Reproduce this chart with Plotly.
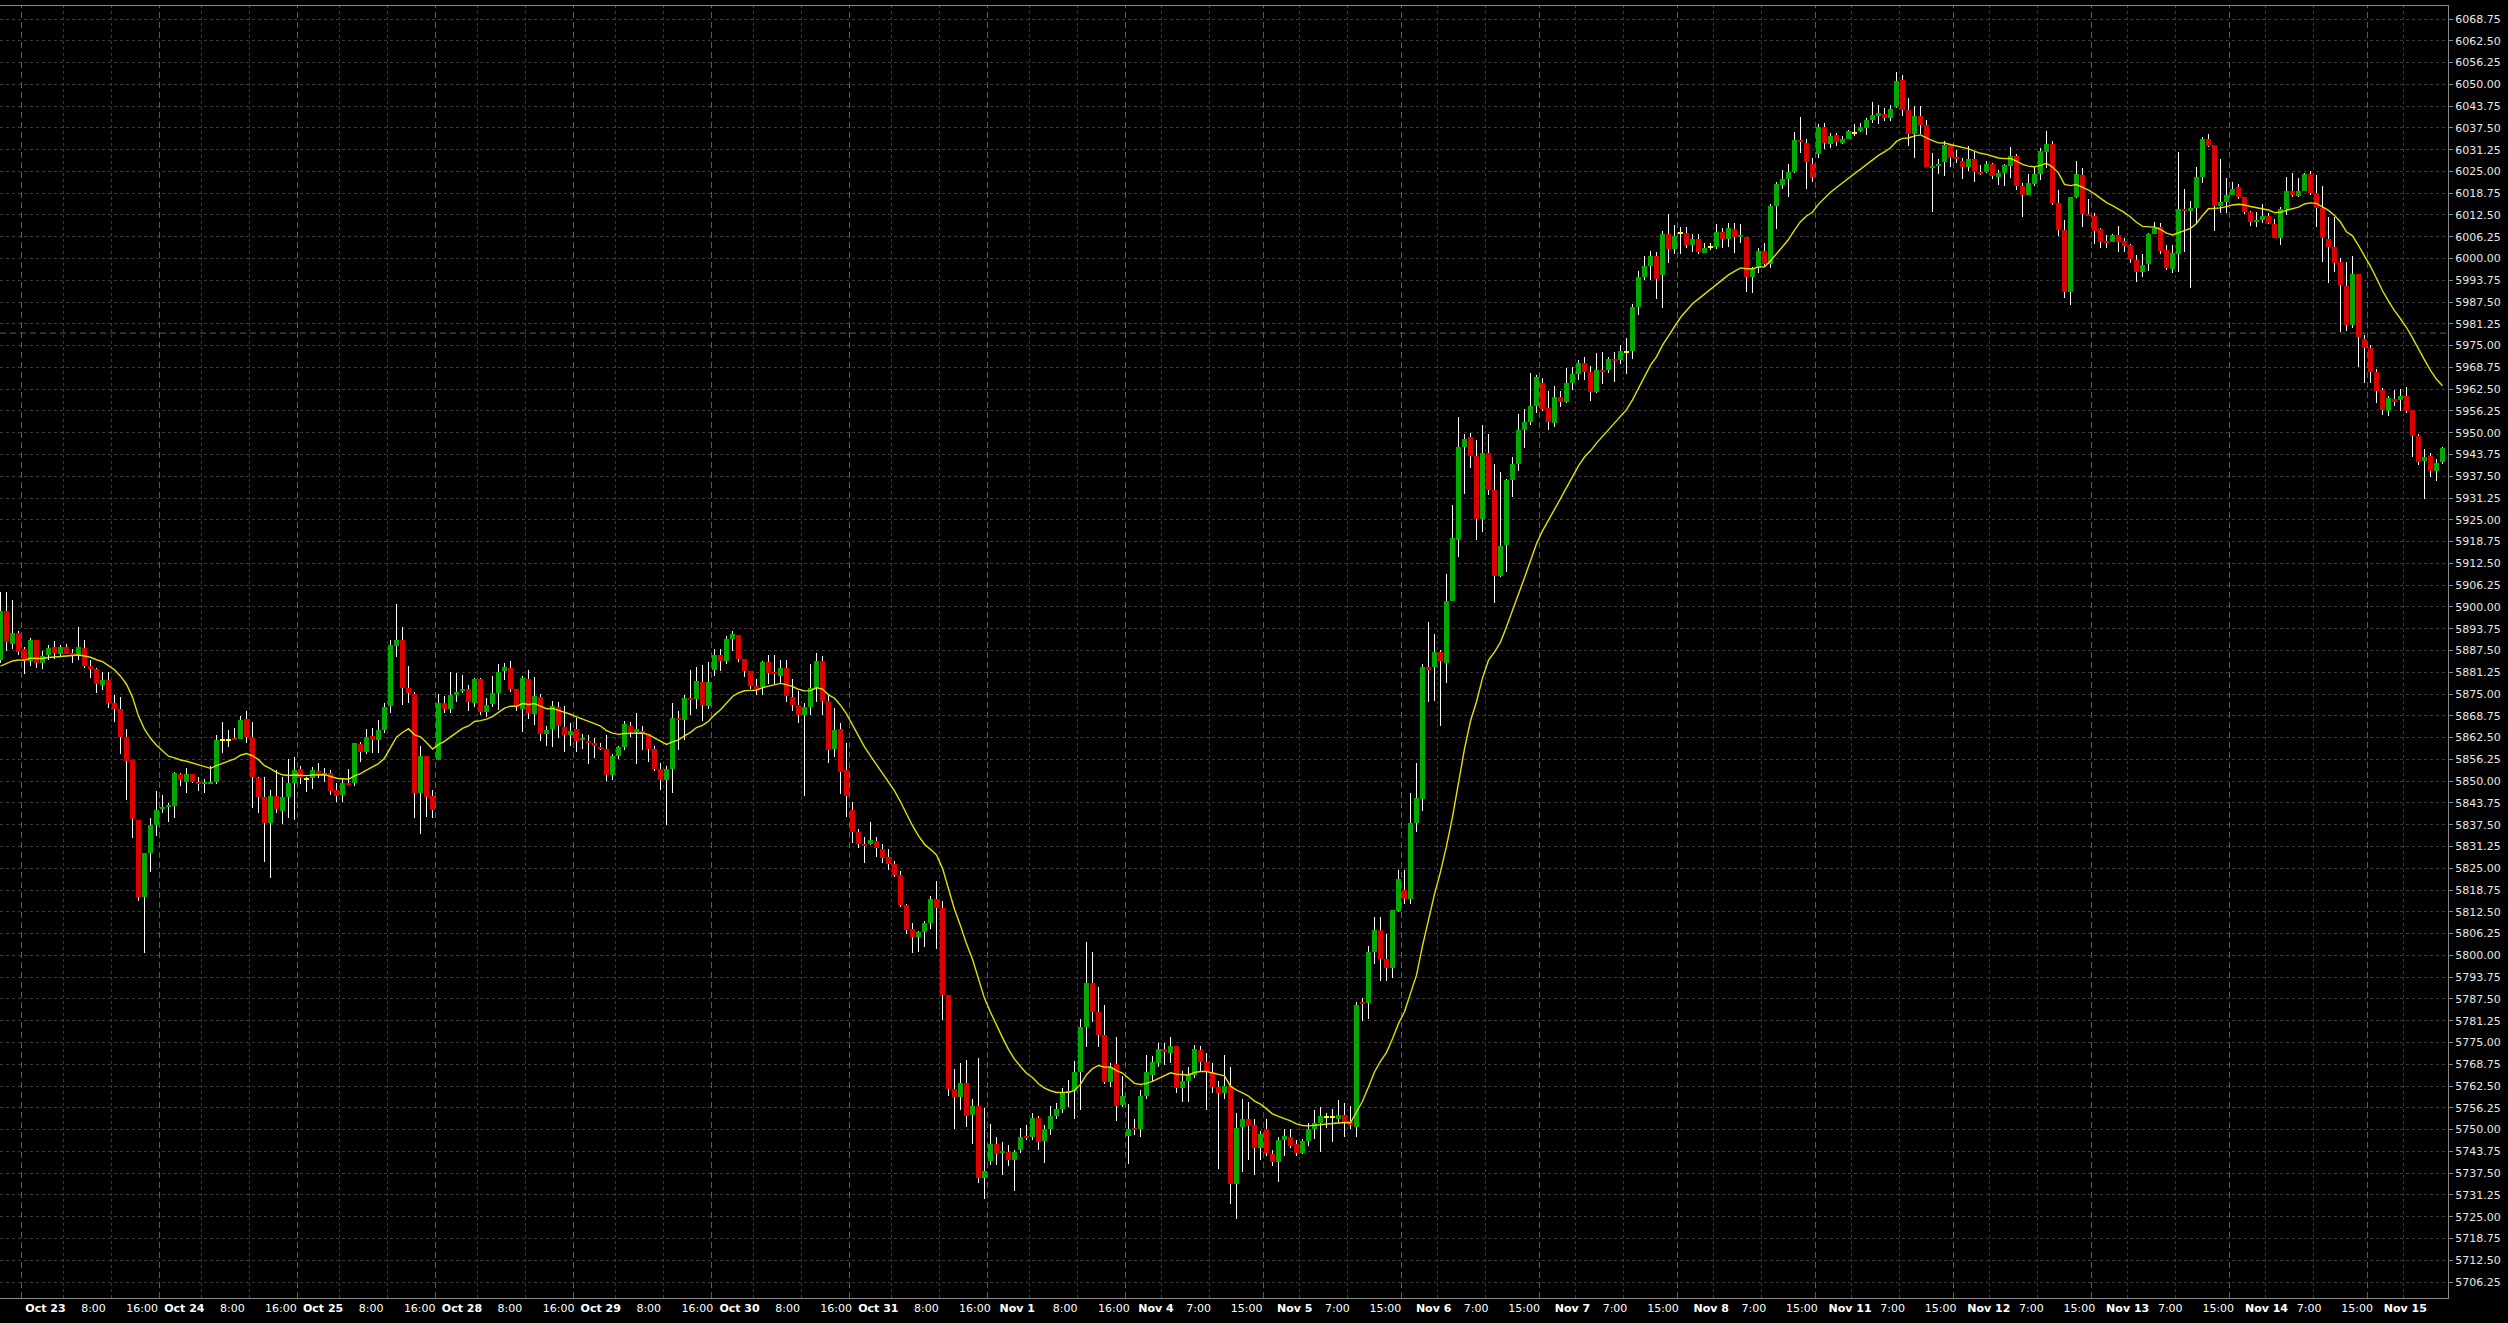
import plotly.graph_objects as go

# ---------------- data (hourly OHLC) ----------------
opens = [
5884.8,5898.8,5889.4,5892.6,5887.8,5884.6,5890.5,5884.0,5886.2,5888.4,
5886.6,5888.5,5886.8,5886.2,5888.2,5883.0,5882.2,5877.6,5879.1,5872.4,
5870.7,5862.6,5856.1,5838.9,5816.8,5829.3,5837.4,5842.1,5842.5,5842.8,
5852.1,5849.9,5852.1,5849.9,5849.1,5849.1,5849.9,5861.8,5861.8,5862.3,
5862.2,5867.8,5862.6,5851.0,5845.5,5837.9,5845.7,5841.4,5845.5,5849.4,
5853.4,5850.7,5851.0,5852.9,5851.8,5852.2,5847.5,5845.9,5849.6,5849.6,
5860.6,5858.5,5863.0,5861.8,5864.7,5871.6,5888.9,5890.5,5876.8,5875.0,
5846.7,5857.2,5845.7,5856.1,5872.3,5870.6,5874.7,5876.0,5876.5,5872.3,
5879.2,5869.9,5872.2,5875.2,5881.5,5882.5,5876.5,5870.8,5879.3,5869.4,
5874.2,5863.6,5865.1,5871.4,5865.5,5863.2,5865.0,5861.7,5861.5,5860.9,
5859.8,5859.1,5851.8,5857.2,5859.8,5865.7,5864.2,5864.3,5863.4,5859.1,
5853.4,5850.4,5853.4,5868.2,5867.6,5873.9,5873.6,5878.5,5871.6,5881.8,
5886.3,5884.4,5890.7,5892.0,5885.0,5881.6,5877.3,5877.0,5884.1,5881.3,
5880.2,5882.5,5874.2,5871.9,5869.1,5871.4,5876.8,5884.4,5873.1,5859.1,
5865.1,5853.2,5841.8,5835.4,5832.0,5832.0,5832.8,5830.5,5828.2,5826.2,
5823.1,5814.6,5807.6,5805.3,5806.7,5809.2,5816.3,5813.5,5788.5,5761.6,
5759.3,5763.5,5754.1,5756.7,5736.1,5741.0,5745.9,5743.4,5743.7,5741.2,
5744.1,5748.3,5747.9,5753.3,5746.6,5750.1,5753.8,5755.9,5760.6,5761.2,
5766.5,5779.4,5792.2,5783.8,5777.1,5763.6,5768.7,5757.0,5748.3,5750.5,
5750.1,5759.7,5765.6,5769.0,5773.2,5772.0,5774.1,5761.9,5763.9,5765.6,
5772.7,5769.3,5766.5,5762.2,5760.6,5762.6,5734.5,5750.8,5753.0,5751.3,
5744.6,5750.1,5742.9,5740.7,5747.1,5747.9,5745.9,5743.2,5746.8,5750.1,
5751.8,5753.5,5753.5,5753.0,5754.2,5752.5,5750.8,5786.7,5786.2,5801.0,
5807.4,5799.0,5796.3,5812.8,5818.7,5816.1,5838.0,5844.8,5882.7,5882.7,
5887.2,5883.8,5901.7,5919.2,5945.8,5948.8,5943.3,5925.3,5944.1,5933.7,
5908.9,5917.9,5936.3,5940.9,5950.7,5953.0,5957.6,5964.3,5957.1,5952.9,
5960.4,5958.7,5964.3,5966.8,5970.0,5967.4,5961.8,5967.9,5967.9,5971.2,
5970.9,5973.2,5973.4,5986.0,5994.6,5997.8,6000.7,5995.3,6007.1,6002.8,
6007.3,6007.4,6004.0,6005.5,6001.7,6003.2,6003.2,6007.6,6005.5,6008.6,
6006.1,6006.3,5994.6,5997.3,6002.1,5998.4,6015.1,6021.2,6022.7,6024.8,
6033.9,6033.2,6027.0,6029.9,6037.8,6033.0,6035.5,6033.2,6034.2,6036.1,
6036.5,6037.6,6039.7,6040.9,6041.4,6040.2,6043.5,6051.1,6042.6,6035.8,
6040.9,6038.3,6026.2,6026.7,6027.6,6032.7,6029.1,6027.9,6026.3,6028.6,
6024.7,6024.7,6027.0,6023.5,6024.6,6026.6,6029.4,6020.8,6018.2,6021.4,
6024.3,6030.7,6032.9,6015.8,6008.2,5990.5,6017.8,6024.0,6012.8,6012.2,
6008.5,6005.0,6004.8,6006.8,6005.0,6003.9,5999.6,5996.2,5998.4,6007.0,
6009.0,6002.4,5997.0,6001.3,6014.1,6013.6,6014.6,6023.3,6034.2,6032.6,
6015.1,6016.3,6018.2,6020.4,6017.6,6013.3,6010.6,6011.1,6012.2,6009.9,
6006.0,6014.2,6019.4,6018.0,6019.4,6024.3,6018.9,6014.6,6005.6,6003.4,
5999.1,5992.2,5980.9,5995.6,5976.9,5974.2,5967.5,5962.3,5956.3,5959.7,
5959.4,5960.5,5956.5,5949.1,5941.9,5943.3,5939.1,5941.7]

highs = [
5904.3,5904.2,5902.0,5893.2,5888.6,5891.0,5890.5,5887.5,5889.0,5890.2,
5889.1,5889.4,5887.8,5894.3,5890.5,5884.8,5882.5,5881.4,5881.4,5874.7,
5874.2,5865.0,5856.1,5838.9,5829.3,5839.5,5847.2,5846.0,5843.8,5852.7,
5852.4,5853.7,5852.1,5851.3,5850.5,5854.3,5863.2,5866.9,5864.7,5865.4,
5868.7,5870.1,5866.9,5851.3,5851.3,5847.5,5853.2,5851.3,5856.3,5857.0,
5854.3,5851.3,5854.2,5855.3,5853.7,5853.2,5849.4,5850.5,5853.4,5860.9,
5861.3,5864.9,5865.4,5867.6,5872.3,5890.5,5900.9,5894.2,5883.1,5875.7,
5860.2,5857.2,5847.5,5875.0,5874.4,5881.4,5881.1,5880.5,5877.6,5879.5,
5879.5,5873.8,5880.3,5883.5,5884.0,5884.4,5876.5,5880.2,5881.8,5879.9,
5875.1,5865.7,5873.1,5872.7,5871.6,5866.6,5868.0,5863.4,5863.2,5862.3,
5861.0,5863.2,5857.7,5860.2,5867.2,5867.0,5869.7,5865.7,5863.4,5860.0,
5855.2,5854.3,5872.5,5870.2,5874.8,5881.8,5882.9,5883.3,5884.1,5887.8,
5887.8,5891.6,5893.1,5892.0,5885.0,5881.6,5879.3,5884.4,5886.1,5886.1,
5884.7,5884.7,5879.3,5875.9,5872.3,5883.6,5886.9,5885.8,5875.0,5871.1,
5866.8,5860.9,5843.9,5836.4,5834.1,5838.2,5833.9,5831.9,5830.5,5827.1,
5824.3,5814.8,5809.2,5806.9,5809.8,5816.9,5821.4,5815.5,5788.5,5767.5,
5769.0,5770.0,5758.7,5770.6,5756.2,5751.6,5747.9,5746.3,5745.7,5744.1,
5750.5,5751.3,5754.7,5753.8,5751.3,5756.9,5757.5,5761.9,5764.3,5769.8,
5781.6,5803.9,5801.0,5790.9,5785.8,5769.0,5776.6,5765.3,5757.2,5753.0,
5761.4,5771.5,5771.0,5774.9,5774.9,5776.6,5774.1,5766.9,5768.1,5774.4,
5774.1,5772.0,5769.0,5763.9,5771.5,5768.1,5754.7,5758.9,5758.0,5753.0,
5749.6,5753.0,5744.1,5747.9,5750.1,5750.1,5747.1,5747.4,5751.8,5755.5,
5756.4,5754.7,5755.9,5758.5,5757.5,5756.9,5786.7,5787.8,5802.7,5811.1,
5811.1,5806.0,5813.1,5824.6,5824.6,5846.5,5855.2,5883.5,5895.6,5892.2,
5887.7,5909.6,5929.3,5954.6,5949.5,5950.0,5947.8,5952.2,5949.5,5941.1,
5938.7,5936.8,5943.0,5955.3,5956.8,5967.1,5966.6,5965.6,5962.0,5963.5,
5962.0,5968.6,5968.8,5970.9,5971.7,5969.1,5972.9,5973.2,5971.7,5973.2,
5975.3,5977.3,5986.9,5996.3,6000.6,6002.2,6001.9,6007.8,6012.9,6009.6,
6009.1,6009.1,6007.1,6006.9,6004.5,6004.5,6009.9,6008.9,6010.1,6010.1,
6009.8,6006.3,5997.6,6003.0,6004.5,6015.6,6021.9,6025.5,6027.0,6036.3,
6040.6,6034.2,6028.9,6038.5,6038.8,6036.1,6036.1,6035.3,6036.8,6038.5,
6038.8,6040.4,6044.8,6044.0,6043.2,6044.0,6053.5,6052.7,6046.0,6043.7,
6043.7,6039.9,6030.3,6028.6,6033.7,6033.0,6031.1,6028.9,6032.4,6030.6,
6026.9,6027.9,6027.3,6025.5,6027.1,6032.1,6030.0,6021.6,6024.3,6026.4,
6031.6,6036.6,6033.8,6019.7,6011.1,6017.6,6028.0,6025.9,6017.0,6013.0,
6008.7,6006.8,6007.0,6009.2,6005.8,6004.2,6001.0,6001.3,6007.4,6010.6,
6010.3,6003.9,6003.9,6030.7,6020.1,6016.6,6026.4,6035.0,6035.7,6032.6,
6028.5,6023.0,6022.1,6021.4,6017.6,6013.7,6013.5,6015.7,6013.0,6011.3,
6014.7,6023.3,6024.6,6023.0,6024.6,6025.2,6024.0,6020.8,6012.0,6012.0,
6000.1,5999.1,6000.7,5995.6,5978.1,5975.2,5968.2,5962.7,5960.5,5962.3,
5962.5,5963.0,5956.5,5949.6,5945.2,5944.1,5942.4,5946.0]

lows = [
5884.0,5887.5,5887.8,5886.2,5880.7,5883.0,5882.4,5882.1,5884.8,5885.0,
5885.7,5886.5,5884.0,5884.8,5882.4,5879.7,5875.4,5876.2,5870.9,5867.1,
5857.8,5844.6,5833.6,5815.7,5800.8,5824.0,5834.3,5840.8,5838.4,5839.5,
5848.7,5846.5,5849.4,5847.2,5846.5,5849.1,5849.1,5858.0,5859.9,5861.8,
5862.0,5860.9,5842.4,5840.8,5826.9,5822.3,5840.8,5837.6,5839.3,5838.8,
5849.2,5847.0,5847.7,5851.0,5849.9,5846.0,5844.1,5844.1,5848.9,5848.7,
5855.6,5857.8,5858.0,5858.0,5863.9,5869.5,5885.7,5871.9,5872.3,5839.5,
5834.8,5839.6,5839.5,5856.1,5869.5,5869.7,5872.8,5875.2,5870.2,5871.2,
5869.0,5868.3,5871.2,5870.4,5879.0,5875.7,5870.2,5864.2,5867.7,5866.2,
5861.4,5860.0,5859.8,5862.5,5858.5,5860.0,5858.5,5859.1,5855.0,5856.6,
5858.9,5850.0,5850.4,5856.4,5858.9,5862.8,5854.8,5858.9,5855.5,5853.0,
5847.5,5837.5,5846.6,5858.9,5861.7,5868.9,5870.8,5867.2,5870.8,5880.2,
5881.6,5883.5,5887.5,5884.1,5879.9,5876.5,5874.8,5874.8,5877.9,5877.9,
5877.9,5872.7,5870.0,5866.6,5845.6,5869.1,5872.7,5869.1,5855.1,5856.8,
5846.2,5839.8,5832.2,5830.8,5826.5,5831.6,5828.2,5826.5,5824.6,5822.6,
5814.0,5806.1,5800.8,5801.0,5802.4,5807.6,5801.9,5781.4,5759.6,5750.3,
5755.6,5750.7,5745.9,5734.6,5730.1,5739.7,5739.7,5737.0,5739.5,5732.3,
5743.2,5747.1,5747.1,5744.1,5740.4,5748.4,5753.0,5754.7,5756.4,5753.0,
5755.5,5773.7,5780.8,5773.7,5763.1,5762.3,5752.5,5756.4,5740.0,5748.4,
5747.9,5758.9,5763.6,5768.1,5768.6,5769.0,5760.6,5758.0,5758.0,5764.8,
5766.5,5755.5,5760.6,5738.7,5758.9,5728.6,5724.4,5737.8,5741.2,5737.0,
5741.2,5742.4,5739.5,5735.0,5742.4,5744.6,5742.4,5742.9,5745.4,5747.4,
5743.7,5750.5,5746.3,5751.8,5748.0,5750.1,5747.9,5781.1,5781.6,5797.6,
5792.6,5792.6,5793.4,5812.4,5814.8,5814.8,5835.5,5841.4,5872.6,5873.1,
5865.8,5878.1,5901.7,5914.2,5932.3,5939.9,5919.2,5921.4,5932.0,5901.2,
5908.7,5910.0,5931.5,5939.1,5945.6,5952.2,5955.8,5956.1,5950.7,5951.7,
5957.4,5958.4,5962.3,5965.0,5965.0,5959.2,5961.5,5964.0,5967.1,5964.5,
5969.6,5966.8,5971.2,5983.8,5993.7,5993.7,5988.3,5985.9,5998.6,6001.2,
6001.2,6003.0,6001.9,6001.2,6001.6,6002.5,6002.6,6003.0,6003.2,6001.7,
6004.5,5990.3,5990.1,5995.8,5997.8,5997.3,6008.6,6019.9,6017.8,6024.5,
6030.3,6020.1,6022.1,6028.9,6031.4,6031.7,6032.4,6033.0,6034.2,6035.3,
6036.3,6035.5,6038.8,6038.6,6039.6,6039.4,6043.2,6040.9,6032.2,6028.9,
6035.8,6026.3,6013.5,6024.2,6023.8,6026.3,6027.3,6022.7,6025.0,6021.9,
6024.0,6024.5,6022.7,6021.0,6020.8,6023.0,6019.7,6012.0,6018.2,6020.8,
6022.5,6025.9,6015.4,6006.5,5988.8,5986.7,6017.3,6009.0,6012.2,6004.1,
6002.9,6002.9,6004.8,6002.0,6002.0,5998.6,5993.2,5994.6,5996.5,6006.9,
6001.3,5996.7,5995.8,5996.2,6002.0,5991.6,6010.1,6021.8,6032.1,6008.0,
6013.0,6013.0,6018.2,6017.0,6012.8,6009.3,6009.1,6010.1,6009.9,6006.0,
6003.9,6012.5,6017.6,6017.6,6019.4,6018.2,6009.1,5999.1,5992.9,5996.2,
5979.0,5979.3,5980.0,5968.8,5964.2,5964.2,5958.6,5955.1,5954.8,5957.7,
5956.1,5955.8,5942.9,5940.7,5930.9,5937.4,5936.2,5941.0]

closes = [
5898.8,5889.8,5892.6,5887.2,5884.6,5890.5,5883.8,5885.9,5888.2,5886.9,
5888.5,5886.6,5886.0,5888.5,5883.0,5882.3,5878.0,5879.1,5872.4,5870.7,
5862.6,5855.9,5839.0,5816.8,5829.3,5837.4,5841.7,5842.6,5843.0,5852.4,
5850.2,5852.1,5849.9,5849.3,5849.6,5849.6,5861.8,5861.8,5861.8,5861.8,
5867.6,5862.6,5851.3,5845.5,5837.9,5845.7,5842.0,5845.5,5849.6,5853.2,
5851.0,5850.7,5853.2,5851.8,5852.4,5847.2,5845.7,5849.4,5848.9,5860.9,
5858.5,5862.8,5861.8,5864.7,5871.4,5889.1,5890.5,5876.8,5875.2,5846.7,
5857.2,5845.5,5841.7,5872.3,5870.6,5874.7,5875.6,5876.5,5872.7,5879.2,
5869.9,5871.9,5875.2,5881.4,5882.7,5876.5,5871.4,5879.6,5869.7,5874.4,
5863.6,5864.8,5871.6,5865.7,5863.2,5864.5,5861.5,5862.3,5860.9,5860.0,
5859.2,5851.8,5857.2,5859.8,5866.3,5864.2,5864.9,5863.6,5859.1,5853.5,
5850.4,5853.4,5868.2,5867.6,5873.9,5873.3,5878.7,5871.9,5878.5,5886.3,
5884.4,5890.7,5892.2,5885.2,5881.6,5877.3,5876.5,5884.1,5881.0,5880.8,
5882.5,5874.4,5871.9,5868.9,5871.4,5876.8,5884.4,5873.1,5858.9,5864.8,
5852.6,5845.6,5835.4,5832.0,5831.4,5833.0,5830.7,5828.0,5826.2,5823.1,
5814.6,5807.2,5805.3,5806.7,5809.2,5816.3,5813.5,5788.5,5761.6,5759.3,
5763.3,5753.9,5756.7,5736.1,5738.0,5745.9,5742.9,5743.9,5741.2,5743.7,
5747.9,5747.6,5753.3,5746.3,5750.1,5753.8,5755.9,5760.6,5761.2,5766.5,
5779.4,5792.2,5783.8,5777.1,5763.6,5768.1,5756.9,5759.7,5750.1,5749.8,
5759.7,5766.5,5769.3,5773.2,5772.4,5774.1,5761.9,5763.9,5765.6,5773.2,
5769.3,5766.5,5762.2,5760.6,5762.6,5734.5,5750.5,5753.0,5751.0,5744.6,
5748.8,5743.2,5740.7,5747.1,5748.1,5745.4,5743.2,5746.8,5750.1,5751.8,
5753.8,5753.5,5753.5,5754.2,5752.2,5751.3,5785.8,5786.2,5801.0,5807.4,
5799.0,5796.3,5813.1,5822.0,5816.1,5838.0,5845.1,5882.7,5881.8,5887.2,
5884.4,5901.7,5919.7,5945.8,5948.3,5943.3,5925.3,5944.1,5933.7,5908.8,
5917.4,5936.3,5940.9,5950.7,5953.0,5957.6,5966.1,5956.8,5953.0,5960.4,
5958.7,5964.3,5966.8,5970.0,5967.4,5961.8,5967.9,5967.4,5971.2,5970.7,
5973.4,5973.2,5986.0,5994.6,5997.8,6000.7,5994.2,6007.1,6002.8,6006.6,
6007.3,6004.0,6005.5,6001.9,6003.0,6003.2,6007.6,6005.5,6008.8,6006.2,
6006.6,5994.6,5997.1,6002.1,5998.4,6015.1,6021.4,6022.7,6024.8,6034.0,
6033.5,6027.6,6023.5,6037.8,6033.2,6035.3,6033.4,6034.2,6036.5,6036.1,
6037.8,6039.7,6041.2,6041.7,6040.2,6042.9,6051.0,6042.7,6035.8,6040.9,
6038.3,6026.3,6026.5,6027.0,6032.7,6028.9,6028.6,6026.3,6028.6,6024.7,
6024.3,6027.0,6023.8,6024.5,6026.8,6029.4,6020.8,6018.2,6021.6,6024.3,
6030.9,6032.9,6015.8,6008.2,5990.5,6017.6,6024.3,6012.8,6012.3,6007.9,
6004.8,6004.6,6006.8,6004.8,6003.7,5999.9,5996.2,5998.1,6007.0,6008.9,
6002.3,5997.2,6001.5,6014.2,6013.6,6014.6,6023.3,6034.2,6032.4,6015.1,
6016.3,6018.2,6020.1,6017.6,6013.3,6010.6,6011.1,6012.2,6010.1,6006.0,
6014.2,6019.4,6018.2,6019.4,6024.3,6018.9,6014.6,6006.0,6003.4,5998.8,
5992.4,5980.9,5995.6,5977.4,5974.2,5967.5,5962.1,5956.5,5959.9,5958.9,
5960.5,5956.3,5949.2,5941.7,5942.9,5939.1,5941.2,5945.7]

# trading-day labels (23 hourly bars per session, session opens at bar 4)
day_labels = ["Oct 23", "Oct 24", "Oct 25", "Oct 28", "Oct 29", "Oct 30", "Oct 31", "Nov 1",
              "Nov 4", "Nov 5", "Nov 6", "Nov 7", "Nov 8", "Nov 11", "Nov 12", "Nov 13",
              "Nov 14", "Nov 15"]
hour_labels_summer = ["8:00", "16:00"]
hour_labels_winter = ["7:00", "15:00"]
ma_period = 20          # yellow line: EMA(20) of close
ma_start = 5883.0       # indicator value at the first visible bar
price_line = 5978.6     # dashed horizontal price line

n = len(closes)
assert len(opens) == n and len(highs) == n and len(lows) == n

# ---------------- styling ----------------
BG = "#000000"
GREEN = "#00aa00"
RED = "#dd0000"
DOJI = "#ffff00"
WICK = "#ffffff"
MA_COL = "#e0e000"
GRID = "#3a3a3a"
SEP = "#5c5c5c"
AXIS = "#8a8a8a"
FONT = "DejaVu Sans"

BARS_PER_DAY = 23
FIRST_BAR = 4
PLOT_W = 2448                       # plot area width in px
PX_PER_BAR = 6                      # one hourly bar every 6 px
x_lo = -0.5 / PX_PER_BAR            # bar centres land on half pixels
x_hi = x_lo + PLOT_W / PX_PER_BAR
y_lo, y_hi = 5701.66, 6072.48

xs = list(range(n))

# wicks (thin bars in the bar layer so the bodies cover them)
wick_base = list(lows)
wick_len = [h - l for h, l in zip(highs, lows)]

# bodies
bases, heights, colors = [], [], []
MIN_H = 0.6
for o, c in zip(opens, closes):
    lo, hi = min(o, c), max(o, c)
    if abs(c - o) < 0.05:
        col = DOJI
    elif c > o:
        col = GREEN
    else:
        col = RED
    h = hi - lo
    if h < MIN_H:
        mid = (hi + lo) / 2
        lo, h = mid - MIN_H / 2, MIN_H
    bases.append(lo)
    heights.append(h)
    colors.append(col)

# EMA indicator
alpha = 2.0 / (ma_period + 1)
ema = [ma_start]
for c in closes[1:]:
    ema.append(ema[-1] + alpha * (c - ema[-1]))

fig = go.Figure()
fig.add_trace(go.Bar(x=xs, y=wick_len, base=wick_base, width=0.8 / PX_PER_BAR,
                     marker=dict(color=WICK, line=dict(width=0)),
                     hoverinfo="skip", showlegend=False))
fig.add_trace(go.Bar(x=xs, y=heights, base=bases, width=5.0 / PX_PER_BAR,
                     marker=dict(color=colors, line=dict(width=0)),
                     hoverinfo="skip", showlegend=False))
fig.add_trace(go.Scatter(x=xs, y=ema, mode="lines", line=dict(color=MA_COL, width=1.4),
                         hoverinfo="skip", showlegend=False))

# x tick labels & vertical grid
tickvals, ticktext = [], []
shapes = []
for k, lab in enumerate(day_labels):
    first = FIRST_BAR + BARS_PER_DAY * k
    sep = first - 0.5
    summer = k < 8
    hrs = hour_labels_summer if summer else hour_labels_winter
    off = [7, 15] if summer else [6, 14]
    shapes.append(dict(type="line", xref="x", yref="paper", x0=sep, x1=sep, y0=0, y1=1,
                       line=dict(color=SEP, width=1, dash="6px,4px"), layer="below"))
    for o in off:
        xg = sep + o
        if xg < x_hi:
            shapes.append(dict(type="line", xref="x", yref="paper", x0=xg, x1=xg, y0=0, y1=1,
                               line=dict(color=GRID, width=1, dash="3px,3px"), layer="below"))
    c0 = first + 3.5 + 0.135 * k
    tickvals.append(c0)
    ticktext.append("<b>" + lab + "</b>")
    toffs = [8.0, 16.1] if summer else [7.1, 15.1]
    for h, t in zip(hrs, toffs):
        if c0 + t < x_hi - 2:
            tickvals.append(c0 + t)
            ticktext.append(h)

shapes.append(dict(type="line", xref="paper", yref="y", x0=0, x1=1, y0=price_line, y1=price_line,
                   line=dict(color=SEP, width=1, dash="6px,4px"), layer="below"))

price_ticks = [5706.25 + 6.25 * k for k in range(59)]
price_text = ["%.2f" % v for v in price_ticks]

fig.update_layout(
    width=2508, height=1323, autosize=False,
    margin=dict(l=0, r=2508 - PLOT_W, t=6, b=25, pad=0),
    paper_bgcolor=BG, plot_bgcolor=BG,
    bargap=0, barmode="overlay",
    showlegend=False, hovermode=False,
    shapes=shapes,
    font=dict(family=FONT, size=11, color="#ffffff"),
    xaxis=dict(range=[x_lo, x_hi], showgrid=False, zeroline=False,
               showline=True, linecolor=AXIS, linewidth=1, mirror=True,
               tickmode="array", tickvals=tickvals, ticktext=ticktext,
               ticks="", tickfont=dict(family=FONT, size=11, color="#ffffff")),
    yaxis=dict(range=[y_lo, y_hi], side="right", zeroline=False,
               showgrid=True, gridcolor=GRID, gridwidth=1, griddash="3px,3px",
               showline=True, linecolor=AXIS, linewidth=1, mirror=True,
               tickmode="array", tickvals=price_ticks, ticktext=price_text,
               ticks="outside", ticklen=4, tickcolor=AXIS,
               tickfont=dict(family=FONT, size=11, color="#e8e8e8")),
)

fig.write_html("out.html", config={"displayModeBar": False},
               post_script="document.body.style.margin='0';document.body.style.overflow='hidden';")
